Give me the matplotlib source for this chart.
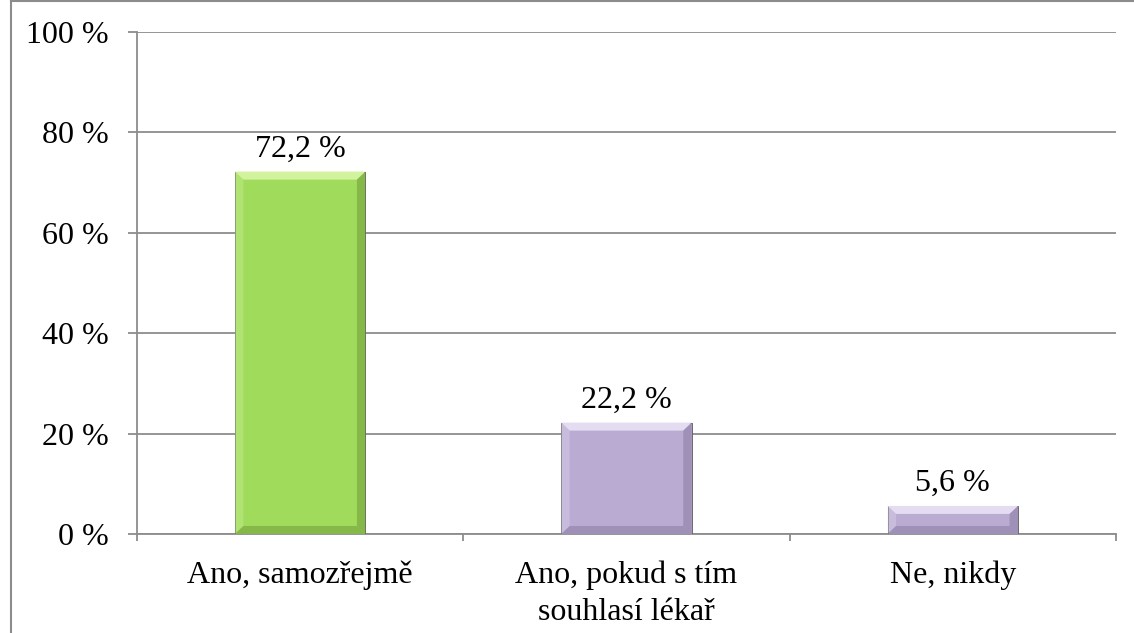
import matplotlib.pyplot as plt
from matplotlib.patches import Polygon
from matplotlib.lines import Line2D
from matplotlib.ticker import FuncFormatter

categories = ["Ano, samozřejmě", "Ano, pokud s tím\nsouhlasí lékař", "Ne, nikdy"]
values = [72.2, 22.2, 5.6]
labels = ["72,2 %", "22,2 %", "5,6 %"]
bar_colors = ["#a0db5c", "#baabd3"]
light_colors = ["#d2f29e", "#e4dcf0"]
dark_colors = ["#6f9c3a", "#8a7aa3"]
color_idx = [0, 1, 1]

plt.rcParams["font.family"] = ["Liberation Serif", "DejaVu Serif"]
FS = 23

fig = plt.figure(figsize=(11.34, 6.33), dpi=100)
ax = fig.add_axes([0.1208, 0.1564, 0.8633, 0.793])

x = list(range(len(categories)))
ax.set_xlim(-0.5, len(categories) - 0.5)
ax.set_ylim(0, 100)

ax.set_yticks([0, 20, 40, 60, 80, 100])
ax.yaxis.set_major_formatter(FuncFormatter(lambda v, p: f"{int(v)} %"))
ax.grid(axis="y", color="#8c8c8c", linewidth=1.3)
ax.set_axisbelow(True)

bars = ax.bar(x, values, width=0.40,
              color=[bar_colors[i] for i in color_idx], zorder=3,
              edgecolor="#5a5a5a", linewidth=0.6)

# bevel effect on each bar
bx = 0.026
by = 1.6
for bar, ci, lab in zip(bars, color_idx, labels):
    x0 = bar.get_x()
    x1 = x0 + bar.get_width()
    y0 = 0
    y1 = bar.get_height()
    h = min(by, y1 / 2)
    top = [(x0, y1), (x1, y1), (x1 - bx, y1 - h), (x0 + bx, y1 - h)]
    bottom = [(x0, y0), (x1, y0), (x1 - bx, y0 + h), (x0 + bx, y0 + h)]
    left = [(x0, y0), (x0, y1), (x0 + bx, y1 - h), (x0 + bx, y0 + h)]
    right = [(x1, y0), (x1, y1), (x1 - bx, y1 - h), (x1 - bx, y0 + h)]
    ax.add_patch(Polygon(top, closed=True, color=light_colors[ci], zorder=4, lw=0))
    ax.add_patch(Polygon(left, closed=True, color=light_colors[ci], zorder=4, lw=0, alpha=0.35))
    ax.add_patch(Polygon(right, closed=True, color=dark_colors[ci], zorder=4, lw=0, alpha=0.55))
    ax.add_patch(Polygon(bottom, closed=True, color=dark_colors[ci], zorder=4, lw=0, alpha=0.55))
    ax.text(x0 + bar.get_width() / 2, y1 + 1.6, lab,
            ha="center", va="bottom", fontsize=FS, color="black")

ax.set_xticks([i - 0.5 for i in range(len(categories) + 1)])
ax.set_xticklabels([])
ax.set_xticks(x, minor=True)
ax.set_xticklabels(categories, minor=True, fontsize=FS, linespacing=1.35)
ax.tick_params(axis="x", which="minor", length=0, pad=19)
ax.tick_params(axis="x", which="major", length=5, color="#8c8c8c", width=1.3)
ax.tick_params(axis="y", length=6.5, color="#8c8c8c", width=1.3, labelsize=FS, pad=14)

for side in ["top", "right"]:
    ax.spines[side].set_visible(False)
ax.spines["left"].set_color("#8c8c8c")
ax.spines["left"].set_linewidth(1.3)
ax.spines["bottom"].set_color("#8c8c8c")
ax.spines["bottom"].set_linewidth(1.3)

# outer frame of the chart area
fig.add_artist(Line2D([0.0093, 0.0093], [0, 1], transform=fig.transFigure,
                      color="#8c8c8c", linewidth=1.5))
fig.add_artist(Line2D([0.0093, 1], [0.998, 0.998], transform=fig.transFigure,
                      color="#8c8c8c", linewidth=1.5))

fig.savefig("out.png", dpi=100)
